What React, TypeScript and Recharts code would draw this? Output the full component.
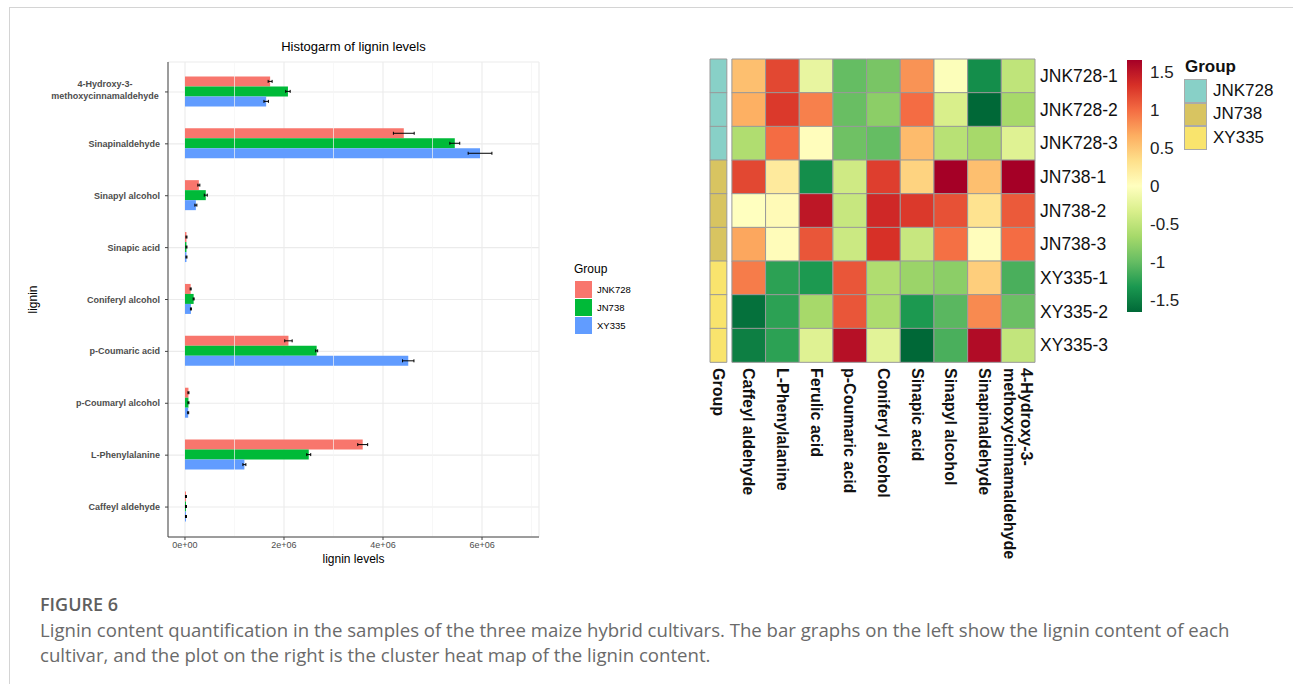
import React from 'react';
import {
  BarChart, Bar, XAxis, YAxis, CartesianGrid, ErrorBar, ReferenceLine, Cell,
} from 'recharts';

// ---- left: grouped bar chart ----
const lignins = [
  '4-Hydroxy-3-\nmethoxycinnamaldehyde', 'Sinapinaldehyde', 'Sinapyl alcohol', 'Sinapic acid',
  'Coniferyl alcohol', 'p-Coumaric acid', 'p-Coumaryl alcohol', 'L-Phenylalanine', 'Caffeyl aldehyde',
];
const jnk728 = [1.72e6, 4.42e6, 0.28e6, 0.03e6, 0.115e6, 2.09e6, 0.07e6, 3.59e6, 0.02e6];
const jn738 = [2.08e6, 5.45e6, 0.42e6, 0.03e6, 0.175e6, 2.66e6, 0.07e6, 2.5e6, 0.02e6];
const xy335 = [1.64e6, 5.96e6, 0.22e6, 0.03e6, 0.12e6, 4.51e6, 0.065e6, 1.2e6, 0.02e6];
const jnk728Err = [0.04e6, 0.21e6, 0.02e6, 0.01e6, 0.01e6, 0.075e6, 0.01e6, 0.1e6, 0.01e6];
const jn738Err = [0.045e6, 0.1e6, 0.03e6, 0.01e6, 0.01e6, 0.02e6, 0.01e6, 0.04e6, 0.01e6];
const xy335Err = [0.045e6, 0.24e6, 0.02e6, 0.01e6, 0.01e6, 0.115e6, 0.01e6, 0.03e6, 0.01e6];
const majorTicks = [0, 2e6, 4e6, 6e6];
const minorTicks = [1e6, 3e6, 5e6, 7e6];
const xDomain = [-0.343e6, 7.151e6];
const groups = ['JNK728', 'JN738', 'XY335'];
const barColors = ['#F8766D', '#00BA38', '#619CFF'];

const barData = lignins.map((name, i) => ({
  name,
  JNK728: jnk728[i], JN738: jn738[i], XY335: xy335[i],
  eJNK728: jnk728Err[i], eJN738: jn738Err[i], eXY335: xy335Err[i],
}));

// ---- right: heat map ----
const heatRows = ['JNK728-1', 'JNK728-2', 'JNK728-3', 'JN738-1', 'JN738-2', 'JN738-3', 'XY335-1', 'XY335-2', 'XY335-3'];
const rowGroups = [0, 0, 0, 1, 1, 1, 2, 2, 2];
const heatCols = [
  'Caffeyl aldehyde', 'L-Phenylalanine', 'Ferulic acid', 'p-Coumaric acid', 'Coniferyl alcohol',
  'Sinapic acid', 'Sinapyl alcohol', 'Sinapinaldehyde', '4-Hydroxy-3-\nmethoxycinnamaldehyde',
];
const zScores = [
  [0.55, 1.2, -0.2, -1.0, -0.9, 0.8, -0.03, -1.4, -0.5],
  [0.65, 1.28, 0.9, -0.98, -0.8, 1.0, -0.33, -1.66, -0.66],
  [-0.6, 1.0, 0.02, -0.95, -1.0, 0.58, -0.55, -0.66, -0.28],
  [1.2, 0.22, -1.4, -0.4, 1.25, 0.42, 1.66, 0.55, 1.66],
  [0.0, 0.05, 1.5, -0.45, 1.38, 1.28, 1.15, 0.3, 1.1],
  [0.7, 0.03, 1.12, -0.42, 1.33, -0.45, 0.98, 0.02, 1.0],
  [0.92, -1.25, -1.32, 1.12, -0.6, -0.72, -0.8, 0.45, -1.12],
  [-1.6, -1.25, -0.66, 1.12, -0.62, -1.32, -1.05, 0.85, -0.97],
  [-1.5, -1.25, -0.28, 1.55, -0.25, -1.66, -1.12, 1.58, -0.48],
];
const groupColors = ['#88d0c7', '#d8c461', '#f9e46d'];
const zMin = -1.66;
const zMax = 1.66;
const zTicks = [-1.5, -1, -0.5, 0, 0.5, 1, 1.5];
const palette = ['#006837', '#1a9850', '#66bd63', '#a6d96a', '#d9ef8b', '#ffffbf', '#fee08b', '#fdae61', '#f46d43', '#d73027', '#a50026'];
const groupWidth = 0.5;
const gapWidth = 0.15;

const hex = (c: string) => [1, 3, 5].map((k) => parseInt(c.slice(k, k + 2), 16));
function zColor(v: number) {
  const t = Math.min(1, Math.max(0, (v - zMin) / (zMax - zMin))) * (palette.length - 1);
  const i = Math.min(palette.length - 2, Math.floor(t));
  const f = t - i;
  const a = hex(palette[i]);
  const b = hex(palette[i + 1]);
  return `rgb(${a.map((x, k) => Math.round(x + (b[k] - x) * f)).join(',')})`;
}

const heatData = heatRows.map((sample) => {
  const row: Record<string, any> = { sample, group: groupWidth, gap: gapWidth };
  heatCols.forEach((_, j) => { row[`c${j}`] = 1; });
  return row;
});
const heatTicks = [groupWidth / 2, ...heatCols.map((_, j) => groupWidth + gapWidth + j + 0.5)];
const heatTickLabels = ['Group', ...heatCols];
const colorBarData = [{ name: 'z', range: [zMin, zMax] }];

function sci(v: number) {
  if (v === 0) return '0e+00';
  const e = Math.floor(Math.log10(Math.abs(v)));
  const m = v / Math.pow(10, e);
  return `${m}e+${String(e).padStart(2, '0')}`;
}

const LigninTick = (props: any) => {
  const { x, y, payload } = props;
  const lines = String(payload.value).split('\n');
  const style = { fontSize: 9, fontWeight: 'bold' as const, fill: '#4d4d4d', fontFamily: 'Liberation Sans, Arial, sans-serif' };
  if (lines.length === 1) {
    return <text x={x} y={y} textAnchor="end" dominantBaseline="central" {...style}>{lines[0]}</text>;
  }
  return (
    <g>
      {lines.map((ln, k) => (
        <text key={k} x={x - 55} y={y + (k - (lines.length - 1) / 2) * 12.5 - 2} textAnchor="middle" dominantBaseline="central" {...style}>{ln}</text>
      ))}
    </g>
  );
};

const HeatColTick = (props: any) => {
  const { x, y, index } = props;
  const lines = heatTickLabels[index].split('\n');
  return (
    <g transform={`rotate(90 ${x} ${y})`}>
      {lines.map((ln, k) => (
        <text key={k} x={x} y={y + (k - (lines.length - 1) / 2) * 17} textAnchor="start" dominantBaseline="central"
          fontSize={16} fontWeight="bold" fill="#111" fontFamily="Liberation Sans, Arial, sans-serif">{ln}</text>
      ))}
    </g>
  );
};

export default function App() {
  const font = 'Liberation Sans, Arial, sans-serif';
  return (
    <div style={{ position: 'absolute', left: 0, top: 0, width: 1293, height: 684, background: '#fff', fontFamily: font, overflow: 'hidden' }}>
      <div style={{ position: 'absolute', left: 9, top: 7, right: 0, bottom: 0, borderTop: '1px solid #d4d4d4', borderLeft: '1px solid #d4d4d4' }} />

      {/* bar chart */}
      <div style={{ position: 'absolute', left: 168, top: 39, width: 371, textAlign: 'center', fontSize: 13, color: '#000' }}>
        Histogarm of lignin levels
      </div>
      <div style={{ position: 'absolute', left: 0, top: 0 }}>
        <BarChart layout="vertical" width={545} height={580} data={barData}
          margin={{ top: 62, right: 6, bottom: 13, left: 0 }} barCategoryGap="20%" barGap={0}>
          <CartesianGrid stroke="#ebebeb" strokeWidth={1.1} />
          {minorTicks.map((v) => (
            <ReferenceLine key={v} x={v} stroke="#f3f3f3" strokeWidth={0.7} />
          ))}
          <XAxis type="number" domain={xDomain} ticks={majorTicks} allowDataOverflow tickFormatter={sci}
            tick={{ fontSize: 9, fill: '#4d4d4d', fontFamily: font }} tickSize={3} tickMargin={2} height={30}
            axisLine={{ stroke: '#444' }} tickLine={{ stroke: '#444' }}
            label={{ value: 'lignin levels', position: 'insideBottom', offset: 4, fontSize: 12, fill: '#000', fontFamily: font }} />
          <YAxis type="category" dataKey="name" width={168} padding={{ top: 4, bottom: 4 }} interval={0}
            tick={(p: any) => <LigninTick {...p} />} tickSize={3} tickMargin={5}
            axisLine={{ stroke: '#444' }} tickLine={{ stroke: '#444' }}
            label={{
              content: ({ viewBox }: any) => (
                <text x={viewBox.x + 33} y={viewBox.y + viewBox.height / 2} textAnchor="middle" dominantBaseline="central"
                  transform={`rotate(-90 ${viewBox.x + 33} ${viewBox.y + viewBox.height / 2})`}
                  fontSize={12} fill="#000" fontFamily={font}>lignin</text>
              ),
            }} />
          <XAxis xAxisId="top" orientation="top" type="number" domain={xDomain} allowDataOverflow height={0}
            tick={false} tickLine={false} axisLine={{ stroke: '#444' }} />
          <YAxis yAxisId="right" orientation="right" type="category" dataKey="name" width={0}
            tick={false} tickLine={false} axisLine={{ stroke: '#444' }} />
          {groups.map((g, k) => (
            <Bar key={g} dataKey={g} fill={barColors[k]} isAnimationActive={false}>
              <ErrorBar dataKey={`e${g}`} direction="x" width={1.5} stroke="#000" strokeWidth={1} />
            </Bar>
          ))}
        </BarChart>
      </div>

      {/* bar legend */}
      <div style={{ position: 'absolute', left: 574, top: 262, fontSize: 12, color: '#000' }}>Group</div>
      {groups.map((g, k) => (
        <div key={g} style={{ position: 'absolute', left: 575, top: 281 + k * 18, height: 17, display: 'flex', alignItems: 'center' }}>
          <div style={{ width: 17, height: 17, background: barColors[k] }} />
          <span style={{ marginLeft: 5, fontSize: 9.5, color: '#000' }}>{g}</span>
        </div>
      ))}

      {/* heat map */}
      <div style={{ position: 'absolute', left: 690, top: 0 }}>
        <BarChart layout="vertical" width={600} height={600} data={heatData}
          margin={{ top: 59, right: 155, bottom: 18, left: 20 }} barCategoryGap={0} barGap={0}>
          <XAxis type="number" domain={[0, groupWidth + gapWidth + heatCols.length]} ticks={heatTicks} interval={0}
            height={220} axisLine={false} tickLine={false} tickSize={0} tickMargin={6}
            tick={(p: any) => <HeatColTick {...p} />} />
          <YAxis type="category" dataKey="sample" orientation="right" width={100} interval={0}
            axisLine={false} tickLine={false} tickSize={0} tickMargin={5}
            tick={{ fontSize: 17.5, fill: '#111', fontFamily: font }} />
          <Bar dataKey="group" stackId="h" stroke="#999" strokeWidth={1} isAnimationActive={false}>
            {heatRows.map((r, i) => <Cell key={r} fill={groupColors[rowGroups[i]]} />)}
          </Bar>
          <Bar dataKey="gap" stackId="h" fill="none" stroke="none" isAnimationActive={false} />
          {heatCols.map((c, j) => (
            <Bar key={c} dataKey={`c${j}`} stackId="h" stroke="#999" strokeWidth={1} isAnimationActive={false}>
              {heatRows.map((r, i) => <Cell key={r} fill={zColor(zScores[i][j])} />)}
            </Bar>
          ))}
        </BarChart>
      </div>

      {/* colour bar */}
      <div style={{ position: 'absolute', left: 1110, top: 0 }}>
        <BarChart width={100} height={330} data={colorBarData} margin={{ top: 60, right: 8, left: 17, bottom: 18 }}
          barCategoryGap={0}>
          <defs>
            <linearGradient id="zgrad" x1="0" y1="1" x2="0" y2="0">
              {palette.map((c, i) => <stop key={c} offset={i / (palette.length - 1)} stopColor={c} />)}
            </linearGradient>
          </defs>
          <XAxis type="category" dataKey="name" hide />
          <YAxis type="number" domain={[zMin, zMax]} ticks={zTicks} orientation="right" width={60} allowDataOverflow
            tickLine={false} axisLine={false} tickSize={0} tickMargin={8} tick={{ fontSize: 17, fill: '#222', fontFamily: font }} />
          <Bar dataKey="range" fill="url(#zgrad)" isAnimationActive={false} />
        </BarChart>
      </div>

      {/* group legend */}
      <div style={{ position: 'absolute', left: 1185, top: 57, fontSize: 17, fontWeight: 'bold', color: '#111' }}>Group</div>
      {groups.map((g, k) => (
        <div key={g} style={{ position: 'absolute', left: 1184, top: 79 + k * 23.5, height: 23.5, display: 'flex', alignItems: 'center' }}>
          <div style={{ width: 23, height: 23.5, boxSizing: 'border-box', background: groupColors[k], border: '1px solid #aaa' }} />
          <span style={{ marginLeft: 6, fontSize: 17, color: '#111' }}>{g}</span>
        </div>
      ))}

      {/* caption */}
      <div style={{ position: 'absolute', left: 40, top: 592, width: 1230, fontFamily: 'Open Sans, sans-serif', color: '#666' }}>
        <div style={{ fontSize: 18, fontWeight: 600, lineHeight: '24px', color: '#5f5f5f' }}>FIGURE 6</div>
        <div style={{ fontSize: 18.6, lineHeight: '25px', marginTop: 1, color: '#6a6a6a' }}>
          Lignin content quantification in the samples of the three maize hybrid cultivars. The bar graphs on the left show the lignin content of each cultivar, and the plot on the right is the cluster heat map of the lignin content.
        </div>
      </div>
    </div>
  );
}
